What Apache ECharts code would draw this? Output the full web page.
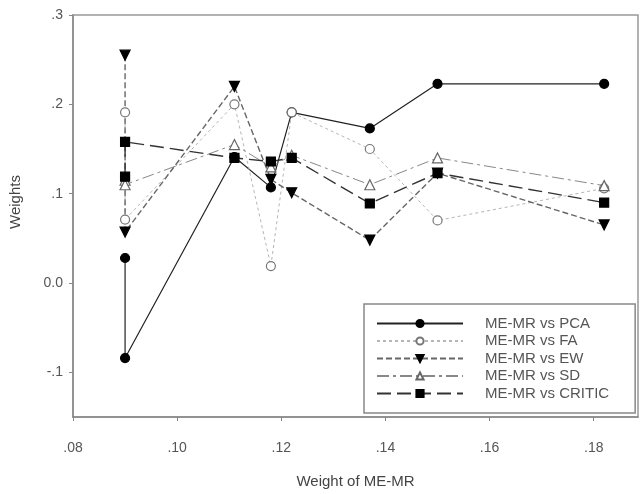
<!DOCTYPE html>
<html>
<head>
<meta charset="utf-8">
<script src="https://cdn.jsdelivr.net/npm/echarts@6/dist/echarts.min.js"></script>
<style>
html,body{margin:0;padding:0;background:#fff;}
#chart{width:641px;height:494px;}
</style>
</head>
<body>
<div id="chart"></div>
<script>
// ---- data ----
var xVals = [0.090, 0.090, 0.111, 0.118, 0.122, 0.137, 0.150, 0.182];
var pca    = [0.028, -0.084, 0.141, 0.107, 0.191, 0.173, 0.223, 0.223];
var fa     = [0.191, 0.071, 0.200, 0.019, 0.191, 0.150, 0.070, 0.106];
var ew     = [0.255, 0.057, 0.220, 0.116, 0.101, 0.048, 0.123, 0.065];
var sd     = [0.115, 0.110, 0.155, 0.130, 0.143, 0.110, 0.140, 0.109];
var critic = [0.119, 0.158, 0.140, 0.136, 0.140, 0.089, 0.123, 0.090];
var seriesNames = ['ME-MR vs PCA', 'ME-MR vs FA', 'ME-MR vs EW', 'ME-MR vs SD', 'ME-MR vs CRITIC'];
var xTicks = [0.08, 0.10, 0.12, 0.14, 0.16, 0.18];
var xTickLabels = ['.08', '.10', '.12', '.14', '.16', '.18'];
var yTicks = [-0.1, 0.0, 0.1, 0.2, 0.3];
var yTickLabels = ['-.1', '0.0', '.1', '.2', '.3'];
var xTitle = 'Weight of ME-MR';
var yTitle = 'Weights';

function pairs(ys) { return ys.map(function (y, i) { return [xVals[i], y]; }); }
function lookup(ticks, labels, v) {
  for (var i = 0; i < ticks.length; i++) if (Math.abs(ticks[i] - v) < 1e-6) return labels[i];
  return '';
}

var FONT = 'Liberation Sans';
var chart = echarts.init(document.getElementById('chart'), null, {renderer: 'canvas'});

function mk(name, ys, color, width, dash, symbol, rotate, fill, border) {
  return {
    name: name, type: 'line', data: pairs(ys),
    symbol: symbol, symbolSize: symbol === 'triangle' ? 10 : 9, symbolRotate: rotate,
    lineStyle: {color: color, width: width, type: dash},
    itemStyle: {color: fill, borderColor: border, borderWidth: 1.2},
    emphasis: {disabled: true},
    animation: false
  };
}

chart.setOption({
  backgroundColor: '#fff',
  animation: false,
  grid: {left: 73, top: 15, right: 3, bottom: 70, show: true, borderColor: '#999', borderWidth: 1.5},
  xAxis: {
    type: 'value', min: 0.08, max: 0.1885,
    name: xTitle, nameLocation: 'middle', nameGap: 57,
    nameTextStyle: {fontFamily: FONT, fontSize: 15, color: '#444'},
    axisLine: {show: true, onZero: false, lineStyle: {color: '#888', width: 1.5}},
    axisTick: {show: true, inside: false, length: 4, customValues: xTicks, lineStyle: {color: '#888'}},
    axisLabel: {customValues: xTicks, margin: 16, fontFamily: FONT, fontSize: 14, color: '#555',
      padding: [8, 0, 0, 0],
      formatter: function (v) { return lookup(xTicks, xTickLabels, v); }},
    splitLine: {show: false}
  },
  yAxis: {
    type: 'value', min: -0.15, max: 0.3,
    name: yTitle, nameLocation: 'middle', nameGap: 50,
    nameTextStyle: {fontFamily: FONT, fontSize: 15, color: '#444', padding: [0, 0, 0, 28]},
    axisLine: {show: true, onZero: false, lineStyle: {color: '#888', width: 1.5}},
    axisTick: {show: true, inside: false, length: 4, customValues: yTicks, lineStyle: {color: '#888'}},
    axisLabel: {customValues: yTicks, margin: 10, fontFamily: FONT, fontSize: 14, color: '#555',
      formatter: function (v) { return lookup(yTicks, yTickLabels, v); }},
    splitLine: {show: false}
  },
  legend: {
    orient: 'vertical', left: 364, top: 304,
    padding: [12, 26, 12, 12],
    itemWidth: 86, itemHeight: 9, itemGap: 2.5,
    borderColor: '#888', borderWidth: 1.5, backgroundColor: '#fff',
    textStyle: {fontFamily: FONT, fontSize: 15, color: '#555', padding: [0, 0, 0, 17]},
    data: seriesNames
  },
  series: [
    mk(seriesNames[0], pca, '#222', 1.2, 'solid', 'circle', 0, '#000', '#000'),
    mk(seriesNames[1], fa, '#b5b5b5', 1, [3, 3], 'circle', 0, '#fff', '#777'),
    mk(seriesNames[2], ew, '#666', 1.4, [6, 3], 'triangle', 180, '#000', '#000'),
    mk(seriesNames[3], sd, '#888', 1, [12, 4, 3, 4], 'triangle', 0, '#fff', '#666'),
    mk(seriesNames[4], critic, '#333', 1.4, [14, 6], 'rect', 0, '#000', '#000')
  ]
});
</script>
</body>
</html>
